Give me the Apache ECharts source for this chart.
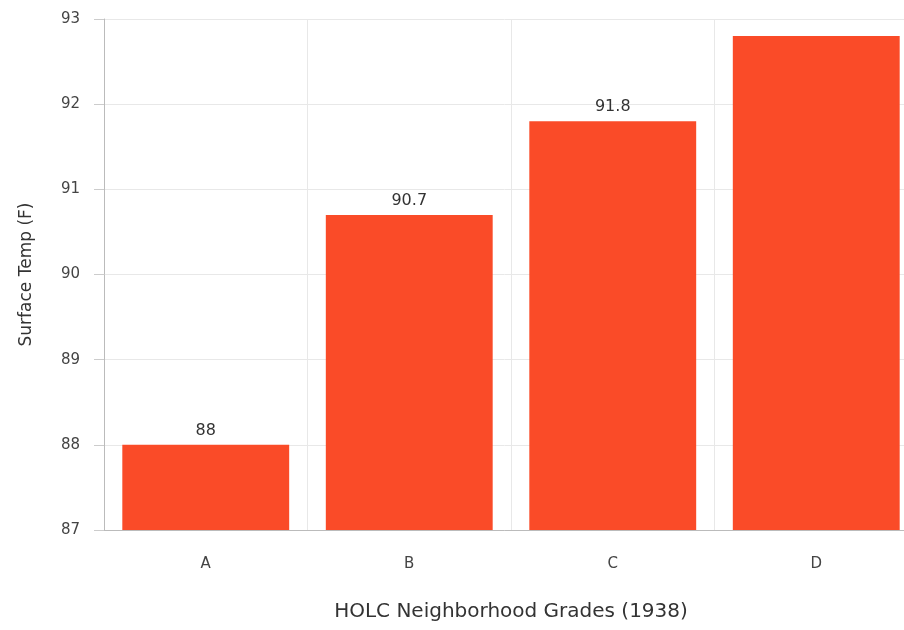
<!DOCTYPE html>
<html>
<head>
<meta charset="utf-8">
<script src="https://cdn.jsdelivr.net/npm/echarts@6/dist/echarts.min.js"></script>
<style>
    html, body { margin: 0; padding: 0; background: #fff; }
    #chart { width: 904px; height: 630px; }
</style>
</head>
<body>
<div id="chart"></div>
<script>
    // HOLC grades vs surface temperature
    var grades = ['A', 'B', 'C', 'D'];
    var temps = [88, 90.7, 91.8, 92.8];
    var showLabel = [true, true, true, false];

    var font = 'DejaVu Sans';
    var myChart = echarts.init(document.getElementById('chart'));
    var option = {
        animation: false,
        grid: {left: 104, top: 19, width: 814, height: 511, outerBoundsMode: 'none'},
        xAxis: {
            type: 'category',
            data: grades,
            name: 'HOLC Neighborhood Grades (1938)',
            nameLocation: 'middle',
            nameGap: 72,
            nameTextStyle: {color: '#333', fontSize: 20, fontFamily: font},
            axisLine: {lineStyle: {color: '#bbb'}},
            axisTick: {alignWithLabel: true, length: 6, lineStyle: {color: '#bbb'}},
            axisLabel: {color: '#444', fontSize: 15, margin: 27, fontFamily: font},
            splitLine: {show: true, lineStyle: {color: '#e8e8e8'}}
        },
        yAxis: {
            type: 'value',
            min: 87, max: 93, interval: 1,
            name: 'Surface Temp (F)',
            nameLocation: 'middle',
            nameGap: 69,
            nameTextStyle: {color: '#333', fontSize: 17, fontFamily: font},
            axisLine: {show: true, lineStyle: {color: '#bbb'}},
            axisTick: {show: true, length: 10, lineStyle: {color: '#ccc'}},
            axisLabel: {color: '#444', fontSize: 15, margin: 24, fontFamily: font},
            splitLine: {lineStyle: {color: '#e8e8e8'}}
        },
        series: [{
            type: 'bar',
            barCategoryGap: '18%',
            itemStyle: {color: '#FA4B28'},
            label: {show: true, position: 'top', color: '#333', fontSize: 16, distance: 6, fontFamily: font},
            data: temps.map(function (v, i) {
                return {value: v, label: {show: showLabel[i]}};
            })
        }]
    };
    myChart.setOption(option);
</script>
</body>
</html>
